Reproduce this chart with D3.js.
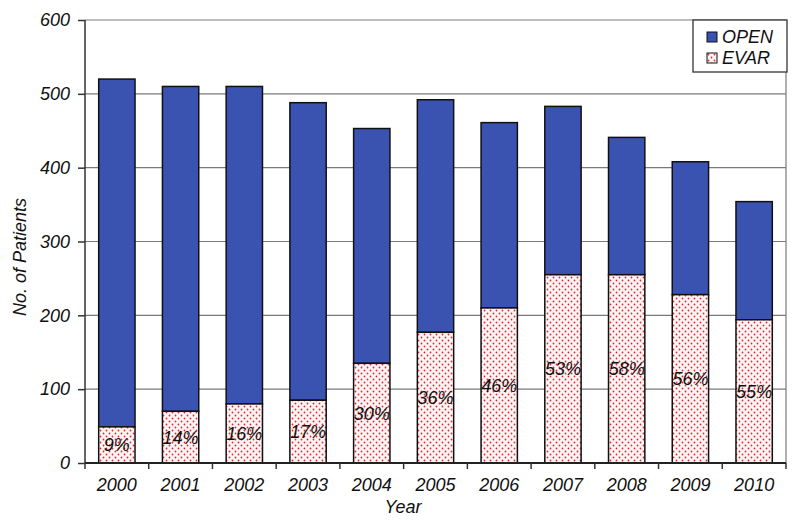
<!DOCTYPE html>
<html>
<head>
<meta charset="utf-8">
<script src="https://cdn.jsdelivr.net/npm/d3@7"></script>
<style>
body { margin: 0; background: #fff; }
text { font-family: Arial, "Liberation Sans", sans-serif; font-style: italic; fill: #111; }
</style>
</head>
<body>
<div id="chart"></div>
<script>
const years = ['2000','2001','2002','2003','2004','2005','2006','2007','2008','2009','2010'];
const totals = [520, 510, 510, 488, 453, 492, 461, 483, 441, 408, 354];
const evar = [49, 70, 80, 85, 135, 177, 210, 255, 255, 228, 194];
const pctLabels = ['9%','14%','16%','17%','30%','36%','46%','53%','58%','56%','55%'];
const yTicks = [0, 100, 200, 300, 400, 500, 600];
const seriesNames = ['OPEN', 'EVAR'];

const width = 800, height = 526;
const margin = {top: 20, right: 14, bottom: 63, left: 85};
const fs = '18px';

const svg = d3.select('#chart').append('svg')
  .attr('width', width)
  .attr('height', height);

const defs = svg.append('defs');
const pat = defs.append('pattern')
  .attr('id', 'dots')
  .attr('patternUnits', 'userSpaceOnUse')
  .attr('width', 6)
  .attr('height', 6);
pat.append('rect').attr('width', 6).attr('height', 6).attr('fill', '#fff4f4');
pat.append('circle').attr('cx', 1.5).attr('cy', 1.5).attr('r', 0.9).attr('fill', '#de2a36');
pat.append('circle').attr('cx', 4.5).attr('cy', 4.5).attr('r', 0.9).attr('fill', '#de2a36');

const x = d3.scaleBand()
  .domain(years)
  .range([margin.left, width - margin.right])
  .paddingInner(0.43)
  .paddingOuter(0.215);

const y = d3.scaleLinear()
  .domain([0, 600])
  .range([height - margin.bottom, margin.top]);

// gridlines
svg.append('g')
  .selectAll('line')
  .data(yTicks.filter(d => d > 0))
  .enter()
  .append('line')
  .attr('x1', margin.left)
  .attr('x2', width - margin.right)
  .attr('y1', d => y(d))
  .attr('y2', d => y(d))
  .attr('stroke', '#7a7a7a')
  .attr('stroke-width', 1.2);

// right border
svg.append('line')
  .attr('x1', width - margin.right).attr('x2', width - margin.right)
  .attr('y1', margin.top).attr('y2', y(0))
  .attr('stroke', '#7a7a7a').attr('stroke-width', 1.2);

const data = years.map((yr, i) => ({year: yr, total: totals[i], evar: evar[i], pct: pctLabels[i]}));

const bars = svg.append('g');

bars.selectAll('.open')
  .data(data)
  .enter()
  .append('rect')
  .attr('class', 'open')
  .attr('x', d => x(d.year))
  .attr('width', x.bandwidth())
  .attr('y', d => y(d.total))
  .attr('height', d => y(d.evar) - y(d.total))
  .attr('fill', '#3a52b0')
  .attr('stroke', '#111')
  .attr('stroke-width', 1.5);

bars.selectAll('.evar')
  .data(data)
  .enter()
  .append('rect')
  .attr('class', 'evar')
  .attr('x', d => x(d.year))
  .attr('width', x.bandwidth())
  .attr('y', d => y(d.evar))
  .attr('height', d => y(0) - y(d.evar))
  .attr('fill', 'url(#dots)')
  .attr('stroke', '#111')
  .attr('stroke-width', 1.5);

bars.selectAll('.pct')
  .data(data)
  .enter()
  .append('text')
  .attr('class', 'pct')
  .attr('x', d => x(d.year) + x.bandwidth() / 2)
  .attr('y', d => (y(d.evar) + y(0)) / 2)
  .attr('dy', '0.36em')
  .attr('text-anchor', 'middle')
  .style('font-size', fs)
  .text(d => d.pct);

// y axis
const yAxis = svg.append('g')
  .attr('transform', 'translate(' + margin.left + ',0)')
  .call(d3.axisLeft(y).tickValues(yTicks).tickSize(7).tickPadding(8));
yAxis.selectAll('.tick text').style('font-size', fs);
yAxis.selectAll('line, path').attr('stroke', '#333').attr('stroke-width', 1.5);
yAxis.select('.domain').attr('d', 'M0,' + y(0) + 'V' + y(600));

// x axis
const xAxis = svg.append('g')
  .attr('transform', 'translate(0,' + y(0) + ')');
xAxis.append('line')
  .attr('x1', margin.left).attr('x2', width - margin.right)
  .attr('stroke', '#222').attr('stroke-width', 1.8);
xAxis.selectAll('.tk')
  .data(d3.range(years.length + 1))
  .enter()
  .append('line')
  .attr('x1', i => margin.left + i * (width - margin.left - margin.right) / years.length)
  .attr('x2', i => margin.left + i * (width - margin.left - margin.right) / years.length)
  .attr('y1', 0).attr('y2', 6)
  .attr('stroke', '#333').attr('stroke-width', 1.5);
xAxis.selectAll('.lbl')
  .data(years)
  .enter()
  .append('text')
  .attr('x', d => x(d) + x.bandwidth() / 2)
  .attr('y', 28)
  .attr('text-anchor', 'middle')
  .style('font-size', fs)
  .text(d => d);

svg.append('text')
  .attr('x', 403)
  .attr('y', 513)
  .attr('text-anchor', 'middle')
  .style('font-size', fs)
  .text('Year');

svg.append('text')
  .attr('transform', 'translate(26,257) rotate(-90)')
  .attr('text-anchor', 'middle')
  .style('font-size', fs)
  .text('No. of Patients');

// legend
const lg = svg.append('g').attr('transform', 'translate(693,20)');
lg.append('rect')
  .attr('width', 94).attr('height', 52)
  .attr('fill', '#fff').attr('stroke', '#333').attr('stroke-width', 1.3);
const item = lg.selectAll('.item')
  .data(seriesNames)
  .enter()
  .append('g')
  .attr('transform', (d, i) => 'translate(14,' + (12 + i * 21) + ')');
item.append('rect')
  .attr('width', 10).attr('height', 10)
  .attr('fill', (d, i) => i === 0 ? '#3a52b0' : 'url(#dots)')
  .attr('stroke', '#111').attr('stroke-width', 1);
item.append('text')
  .attr('x', 15).attr('y', 5).attr('dy', '0.36em')
  .style('font-size', fs)
  .text(d => d);
</script>
</body>
</html>
